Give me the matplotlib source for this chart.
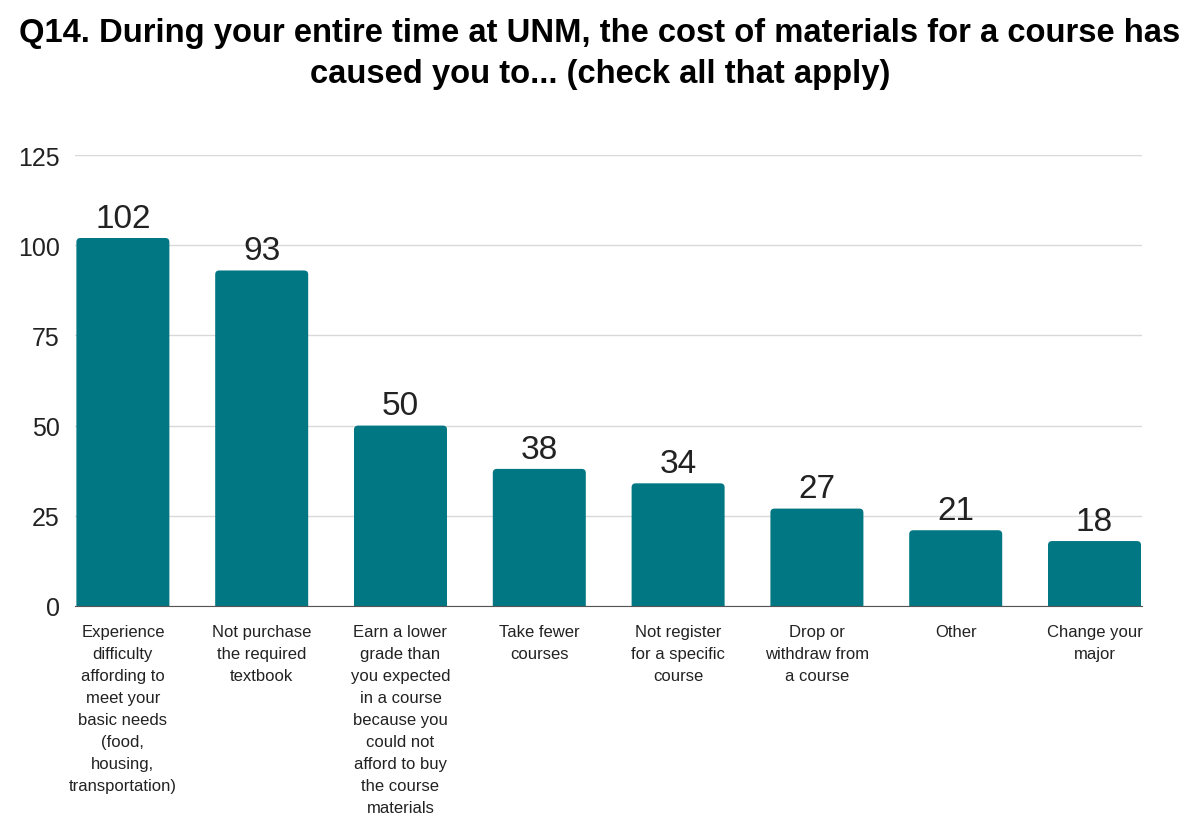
import matplotlib.pyplot as plt
from matplotlib.patches import FancyBboxPatch

plt.rcParams['font.family'] = ['Liberation Sans', 'DejaVu Sans']

# data
categories = [
    "Experience\ndifficulty\naffording to\nmeet your\nbasic needs\n(food,\nhousing,\ntransportation)",
    "Not purchase\nthe required\ntextbook",
    "Earn a lower\ngrade than\nyou expected\nin a course\nbecause you\ncould not\nafford to buy\nthe course\nmaterials",
    "Take fewer\ncourses",
    "Not register\nfor a specific\ncourse",
    "Drop or\nwithdraw from\na course",
    "Other",
    "Change your\nmajor",
]
counts = [102, 93, 50, 38, 34, 27, 21, 18]
yticks = [0, 25, 50, 75, 100, 125]

title = "Q14. During your entire time at UNM, the cost of materials for a course has\ncaused you to... (check all that apply)"

bar_color = "#007782"

fig = plt.figure(figsize=(12, 8.37), dpi=100)
ax = fig.add_axes([0.0625, 0.2748, 0.8895, 0.5388])

x = list(range(len(counts)))
bars = ax.bar(x, counts, width=0.67, color=bar_color, zorder=3)

# rounded top corners (bottom part hidden below the axis)
for b in bars:
    b.set_visible(False)
    p = FancyBboxPatch((b.get_x(), -3), b.get_width(), b.get_height() + 3,
                       boxstyle="round,pad=0,rounding_size=0.03",
                       mutation_aspect=37, facecolor=bar_color, edgecolor='none',
                       zorder=3, linewidth=0)
    ax.add_patch(p)

for xi, v in zip(x, counts):
    ax.text(xi, v + 1.2, str(v), ha='center', va='bottom', fontsize=24, color='#222222')

ax.set_xlim(-0.345, 7.345)
ax.set_ylim(0, 125)
ax.set_yticks(yticks)
ax.set_yticklabels([str(t) for t in yticks], fontsize=18, color='#222222')
ax.yaxis.grid(True, color='#d9d9d9', linewidth=1, zorder=0)
ax.set_axisbelow(True)
ax.tick_params(axis='y', length=0, pad=11)
ax.tick_params(axis='x', length=0, pad=13)
ax.set_xticks(x)
ax.set_xticklabels(categories, fontsize=12, color='#222222', linespacing=1.58, va='top')
for s in ['top', 'right', 'left']:
    ax.spines[s].set_visible(False)
ax.spines['bottom'].set_color('#555555')
ax.spines['bottom'].set_zorder(4)

fig.suptitle(title, fontsize=23.6, fontweight='bold', y=0.979, linespacing=1.45)

fig.savefig('out.png', dpi=100)
